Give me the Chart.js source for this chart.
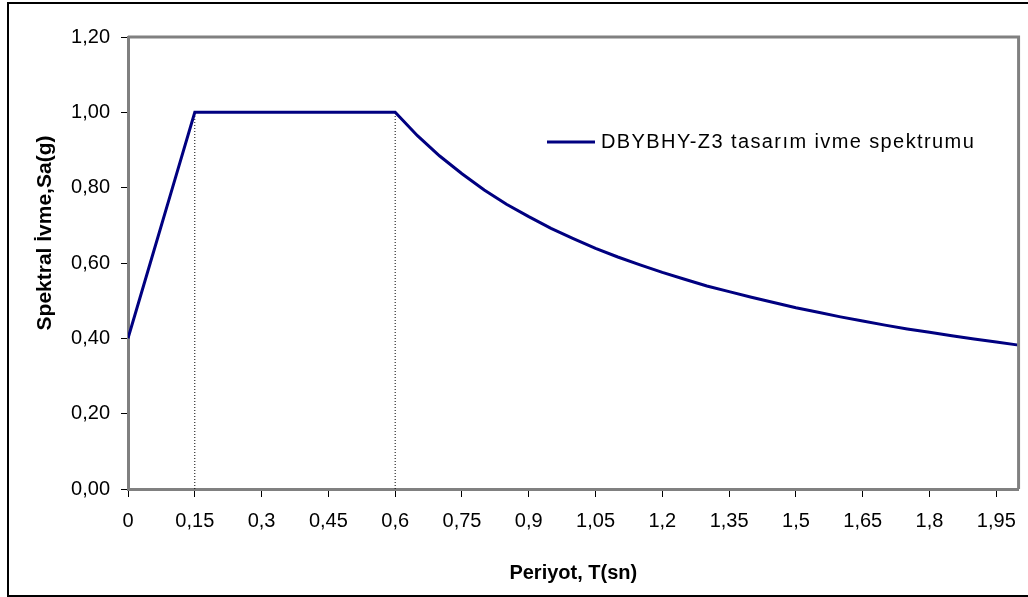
<!DOCTYPE html>
<html>
<head>
<meta charset="utf-8">
<script src="https://cdn.jsdelivr.net/npm/chart.js@4"></script>
<style>
  html, body { margin: 0; padding: 0; background: #fff; }
  canvas { display: block; }
</style>
</head>
<body>
<canvas id="plot" width="1028" height="597"></canvas>
<script>
// Periods (s) and spectral acceleration (g)
const periods = [0, 0.05, 0.1, 0.15, 0.2, 0.25, 0.3, 0.35, 0.4, 0.45, 0.5, 0.55, 0.6,
  0.65, 0.7, 0.75, 0.8, 0.85, 0.9, 0.95, 1.0, 1.05, 1.1, 1.15, 1.2, 1.25, 1.3, 1.35,
  1.4, 1.45, 1.5, 1.55, 1.6, 1.65, 1.7, 1.75, 1.8, 1.85, 1.9, 1.95, 2.0];
const spectrum = [0.40, 0.60, 0.80, 1.00, 1.00, 1.00, 1.00, 1.00, 1.00, 1.00, 1.00, 1.00, 1.00,
  0.938, 0.884, 0.837, 0.794, 0.756, 0.723, 0.692, 0.665, 0.639, 0.616, 0.595, 0.575, 0.557,
  0.539, 0.524, 0.509, 0.495, 0.481, 0.469, 0.457, 0.446, 0.435, 0.425, 0.416, 0.407, 0.398,
  0.390, 0.382];
const seriesLabel = "DBYBHY-Z3 tasarım ivme spektrumu";

// corner periods TA, TB (dotted markers up to the plateau)
const cornerPeriods = [0.15, 0.6];
const plateau = 1.0;

const xTickValues = [0, 0.15, 0.3, 0.45, 0.6, 0.75, 0.9, 1.05, 1.2, 1.35, 1.5, 1.65, 1.8, 1.95];
const xTickLabels = ["0", "0,15", "0,3", "0,45", "0,6", "0,75", "0,9", "1,05", "1,2", "1,35", "1,5", "1,65", "1,8", "1,95"];
const yTickValues = [0, 0.2, 0.4, 0.6, 0.8, 1.0, 1.2];
const yTickLabels = ["0,00", "0,20", "0,40", "0,60", "0,80", "1,00", "1,20"];
const xTitle = "Periyot, T(sn)";
const yTitle = "Spektral İvme,Sa(g)";

const FONT = "'Liberation Sans', Arial, sans-serif";
const AXIS_GREY = "#808080";

const mainData = periods.map((t, i) => ({ x: t, y: spectrum[i] }));

const dottedSets = cornerPeriods.map(t => ({
  label: "T=" + t,
  data: [{ x: t, y: 0 }, { x: t, y: plateau }],
  borderColor: "#000",
  borderWidth: 1,
  borderDash: [1, 2],
  pointRadius: 0,
  order: 2
}));

// frame around the figure, top/right edges of plot area, y title and legend
const framePlugin = {
  id: "frame",
  afterDraw(chart) {
    const c = chart.ctx, a = chart.chartArea;
    c.save();
    c.strokeStyle = "#000";
    c.lineWidth = 2;
    c.strokeRect(8, 3, 1040, 593);

    c.strokeStyle = AXIS_GREY;
    c.lineWidth = 3;
    c.beginPath();
    c.moveTo(a.left, a.top);
    c.lineTo(a.right, a.top);
    c.lineTo(a.right, a.bottom);
    c.stroke();

    // y axis title (sits a bit above the plot centre, like the original)
    c.save();
    c.fillStyle = "#000";
    c.font = "bold 21px " + FONT;
    c.textAlign = "center";
    c.textBaseline = "middle";
    c.translate(45, 233);
    c.rotate(-Math.PI / 2);
    c.fillText(yTitle, 0, 0);
    c.restore();

    // legend
    const ds = chart.data.datasets[0];
    c.strokeStyle = ds.borderColor;
    c.lineWidth = 3;
    c.beginPath();
    c.moveTo(547, 142);
    c.lineTo(595, 142);
    c.stroke();
    c.fillStyle = "#000";
    c.font = "20px " + FONT;
    c.textBaseline = "middle";
    c.textAlign = "left";
    if ("letterSpacing" in c) c.letterSpacing = "1.4px";
    c.fillText(ds.label, 601, 142);
    c.restore();
  }
};

const ctx = document.getElementById("plot").getContext("2d");
new Chart(ctx, {
  type: "line",
  data: {
    datasets: [
      {
        label: seriesLabel,
        data: mainData,
        borderColor: "#000080",
        borderWidth: 3,
        pointRadius: 0,
        tension: 0,
        order: 1
      },
      ...dottedSets
    ]
  },
  options: {
    responsive: false,
    animation: false,
    devicePixelRatio: 1,
    layout: { padding: { left: 0, top: 37, right: 9, bottom: 0 } },
    plugins: {
      legend: { display: false },
      tooltip: { enabled: false }
    },
    scales: {
      x: {
        type: "linear",
        min: 0,
        max: 2.0,
        afterBuildTicks: axis => { axis.ticks = xTickValues.map(v => ({ value: v })); },
        afterFit: axis => { axis.height = 108; },
        border: { display: true, color: AXIS_GREY, width: 3 },
        grid: { drawOnChartArea: false, drawTicks: true, tickLength: 8, tickColor: "#000", lineWidth: 1 },
        ticks: {
          autoSkip: false,
          maxRotation: 0,
          padding: 12,
          color: "#000",
          font: { family: FONT, size: 20 },
          callback: (v, i) => xTickLabels[i]
        },
        title: {
          display: true,
          text: xTitle,
          color: "#000",
          font: { family: FONT, size: 20, weight: "bold" },
          padding: { top: 0, bottom: 12 }
        }
      },
      y: {
        min: 0,
        max: 1.2,
        afterBuildTicks: axis => { axis.ticks = yTickValues.map(v => ({ value: v })); },
        afterFit: axis => { axis.width = 128; },
        border: { display: true, color: AXIS_GREY, width: 3 },
        grid: { drawOnChartArea: false, drawTicks: true, tickLength: 7, tickColor: "#000", lineWidth: 1 },
        ticks: {
          padding: 11,
          color: "#000",
          font: { family: FONT, size: 20 },
          callback: (v, i) => yTickLabels[i]
        },
        title: { display: false }
      }
    }
  },
  plugins: [framePlugin]
});
</script>
</body>
</html>
